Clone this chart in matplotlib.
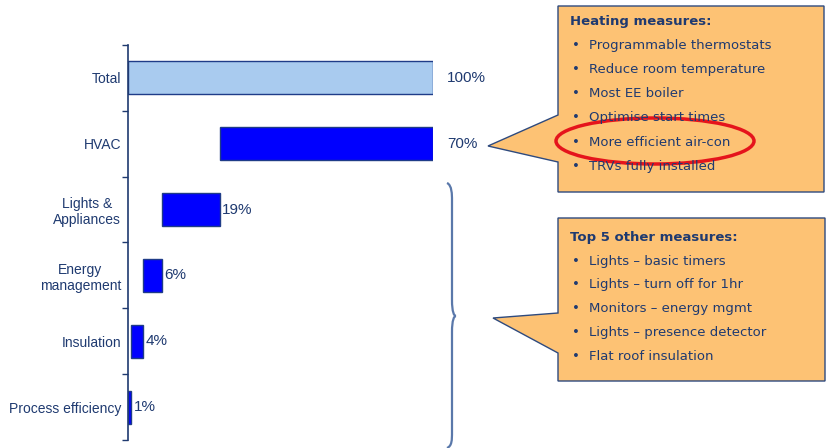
import matplotlib.pyplot as plt
from matplotlib.patches import Polygon, Ellipse, PathPatch
from matplotlib.path import Path

categories = ["Total", "HVAC", "Lights &\nAppliances", "Energy\nmanagement",
              "Insulation", "Process efficiency"]
values = [100, 70, 19, 6, 4, 1]
labels = ["100%", "70%", "19%", "6%", "4%", "1%"]

heating_title = "Heating measures:"
heating_items = ["Programmable thermostats", "Reduce room temperature",
                 "Most EE boiler", "Optimise start times",
                 "More efficient air-con", "TRVs fully installed"]
other_title = "Top 5 other measures:"
other_items = ["Lights \u2013 basic timers", "Lights \u2013 turn off for 1hr",
               "Monitors \u2013 energy mgmt", "Lights \u2013 presence detector",
               "Flat roof insulation"]

navy = "#1F3A70"
box_fill = "#FDC274"
box_edge = "#2E4A7E"

# waterfall starts: total from 0, then each component stacked from the right
lefts = [0]
remaining = values[0]
for v in values[1:]:
    remaining -= v
    lefts.append(remaining)

fig = plt.figure(figsize=(8.26, 4.48), dpi=100)
ax = fig.add_axes([128 / 826, 8 / 448, 305 / 826, 395 / 448])

colors = ["#A9CBEF"] + ["#0000FF"] * (len(values) - 1)
ypos = list(range(len(values)))
ax.barh(ypos, values, left=lefts, height=0.5, color=colors,
        edgecolor="#1F3C88", linewidth=1)

for i, (l, v, t) in enumerate(zip(lefts, values, labels)):
    off = 10 if i < 2 else 2
    ax.annotate(t, (l + v, i), xytext=(off, 0), textcoords="offset points",
                ha="left", va="center", fontsize=11, color=navy,
                family="Liberation Sans", annotation_clip=False)

ax.set_xlim(0, 100)
ax.set_ylim(len(values) - 0.5, -0.5)
ax.set_yticks([i - 0.5 for i in range(len(values) + 1)])
ax.set_yticklabels([])
ax.tick_params(axis="y", which="major", length=4, width=1, color=navy)
ax.set_yticks(ypos, minor=True)
ax.set_yticklabels(categories, minor=True, fontsize=10, color=navy,
                   family="Liberation Sans", ha="right",
                   multialignment="center")
ax.tick_params(axis="y", which="minor", length=0, pad=5)
ax.xaxis.set_visible(False)
for s in ["top", "right", "bottom"]:
    ax.spines[s].set_visible(False)
ax.spines["left"].set_color(navy)
ax.spines["left"].set_linewidth(1.2)
ax.patch.set_alpha(0)

# overlay in pixel coordinates for callouts and brace
ov = fig.add_axes([0, 0, 1, 1])
ov.set_xlim(0, 826)
ov.set_ylim(448, 0)
ov.axis("off")
ov.patch.set_alpha(0)

call1 = [(558, 6), (824, 6), (824, 192), (558, 192), (558, 162),
         (488, 146), (558, 115)]
call2 = [(558, 218), (825, 218), (825, 381), (558, 381), (558, 353),
         (493, 318), (558, 313)]
for pts in (call1, call2):
    ov.add_patch(Polygon(pts, closed=True, facecolor=box_fill,
                         edgecolor=box_edge, linewidth=1))

ov.text(570, 21, heating_title, fontsize=9.5, fontweight="bold", color=navy,
        va="center", ha="left")
for k, item in enumerate(heating_items):
    y = 45 + k * 24.3
    ov.text(572, y, "\u2022", fontsize=9.5, color=navy, va="center")
    ov.text(589, y, item, fontsize=9.5, color=navy, va="center")

ov.text(570, 237, other_title, fontsize=9.5, fontweight="bold", color=navy,
        va="center", ha="left")
for k, item in enumerate(other_items):
    y = 261 + k * 23.8
    ov.text(572, y, "\u2022", fontsize=9.5, color=navy, va="center")
    ov.text(589, y, item, fontsize=9.5, color=navy, va="center")

ov.add_patch(Ellipse((655, 141), 198, 46, fill=False, edgecolor="#E5141C",
                     linewidth=2.5))

brace = Path([(447, 183), (452, 185), (452, 195), (452, 200),
              (452, 300),
              (452, 312), (454, 316), (456, 316),
              (454, 316), (452, 320), (452, 332),
              (452, 432),
              (452, 440), (452, 446), (447, 448)],
             [Path.MOVETO, Path.CURVE4, Path.CURVE4, Path.CURVE4,
              Path.LINETO,
              Path.CURVE4, Path.CURVE4, Path.CURVE4,
              Path.CURVE4, Path.CURVE4, Path.CURVE4,
              Path.LINETO,
              Path.CURVE4, Path.CURVE4, Path.CURVE4])
ov.add_patch(PathPatch(brace, fill=False, edgecolor="#5A78AA", linewidth=1.6))

fig.savefig("out.png", dpi=100)
